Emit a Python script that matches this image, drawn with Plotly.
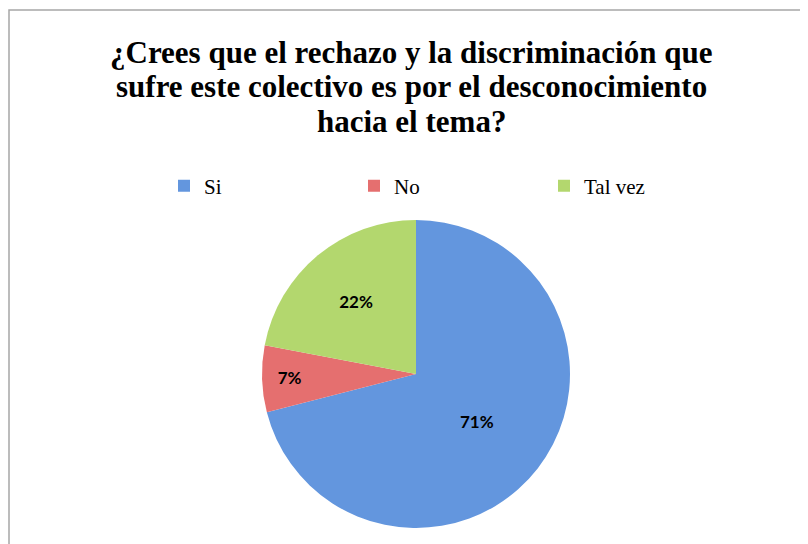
import plotly.graph_objects as go

categories = ["Si", "No", "Tal vez"]
values = [71, 7, 22]
colors = ["#6396de", "#e56f6f", "#b3d76e"]
title_lines = ["¿Crees que el rechazo y la discriminación que",
               "sufre este colectivo es por el desconocimiento",
               "hacia el tema?"]

W, H = 808, 544
cx, cy, r = 408, 366, 154  # domain placement (pixels)

fig = go.Figure(go.Pie(
    labels=categories, values=values, sort=False, direction="clockwise", rotation=0,
    marker=dict(colors=colors, line=dict(width=0)),
    texttemplate="%{percent:.0%}", textposition="inside", insidetextorientation="horizontal",
    textfont=dict(family="Lato", size=17, color="#000000", weight="bold"),
    domain=dict(x=[(cx - r) / W, (cx + r) / W], y=[(H - cy - r) / H, (H - cy + r) / H]),
    hoverinfo="label+percent",
))

title_y = [44, 78.5, 113]
annotations = [dict(text=t, xref="paper", yref="paper", x=403 / W, y=1 - yy / H,
                    xanchor="center", yanchor="middle", showarrow=False,
                    font=dict(family="Liberation Serif", size=31, color="#000000", weight="bold"))
               for t, yy in zip(title_lines, title_y)]

fig.update_layout(
    width=W, height=H, margin=dict(l=0, r=0, t=0, b=0),
    paper_bgcolor="white", plot_bgcolor="white",
    annotations=annotations,
    legend=dict(orientation="h", x=156 / W, xanchor="left", y=1 - 178 / H, yanchor="middle",
                font=dict(family="Liberation Serif", size=21, color="#000000"),
                entrywidth=145, entrywidthmode="pixels", traceorder="normal"),
    shapes=[dict(type="rect", xref="paper", yref="paper", x0=1 / W, x1=1.05, y0=-0.05, y1=1 - 2 / H,
                 line=dict(color="#a6a6a6", width=1.5), fillcolor="rgba(0,0,0,0)", layer="below")],
)

fig.write_html("out.html")
